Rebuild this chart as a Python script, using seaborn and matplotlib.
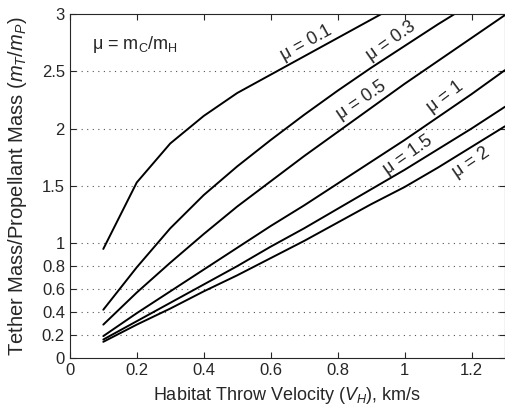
import numpy as np
import pandas as pd
import matplotlib
matplotlib.use("Agg")
import matplotlib.pyplot as plt
import seaborn as sns

# throw velocity samples, km/s
v_h = [0.1, 0.2, 0.3, 0.4, 0.5, 0.6, 0.7, 0.8, 0.9, 1.0, 1.1, 1.2, 1.3]

# tether mass / propellant mass (NaN where off the top)
ratio_mu01 = [0.95, 1.53, 1.87, 2.11, 2.31, 2.47, 2.63, 2.79, 2.95, 3.11, np.nan, np.nan, np.nan]
ratio_mu03 = [0.42, 0.79, 1.13, 1.42, 1.67, 1.90, 2.12, 2.33, 2.53, 2.72, 2.91, 3.09, np.nan]
ratio_mu05 = [0.29, 0.57, 0.83, 1.08, 1.32, 1.54, 1.76, 1.97, 2.18, 2.39, 2.59, 2.79, 2.99]
ratio_mu1 = [0.19, 0.39, 0.58, 0.77, 0.96, 1.15, 1.33, 1.52, 1.71, 1.90, 2.10, 2.30, 2.51]
ratio_mu15 = [0.16, 0.32, 0.48, 0.64, 0.80, 0.97, 1.13, 1.30, 1.47, 1.64, 1.82, 2.00, 2.19]
ratio_mu2 = [0.14, 0.29, 0.43, 0.58, 0.72, 0.87, 1.02, 1.18, 1.34, 1.49, 1.66, 1.84, 2.02]

mu_names = ["0.1", "0.3", "0.5", "1", "1.5", "2"]
series = [ratio_mu01, ratio_mu03, ratio_mu05, ratio_mu1, ratio_mu15, ratio_mu2]

# curve labels: (x, y, rotation)
label_pos = [(0.705, 2.75, 29), (0.96, 2.76, 35), (0.87, 2.25, 34),
             (1.12, 2.28, 37), (1.01, 1.77, 35), (1.20, 1.70, 34)]

x_ticks = [0, 0.2, 0.4, 0.6, 0.8, 1.0, 1.2]
x_ticklabels = ["0", "0.2", "0.4", "0.6", "0.8", "1", "1.2"]
y_ticks = [0, 0.2, 0.4, 0.6, 0.8, 1.0, 1.5, 2.0, 2.5, 3.0]
y_ticklabels = ["0", "0.2", "0.4", "0.6", "0.8", "1", "1.5", "2", "2.5", "3"]

frames = []
for name, vals in zip(mu_names, series):
    frames.append(pd.DataFrame({"v": v_h, "ratio": vals, "mu": name}))
df = pd.concat(frames, ignore_index=True)

sns.set_style("ticks")
plt.rcParams["font.family"] = ["Liberation Sans", "DejaVu Sans"]
plt.rcParams["mathtext.fontset"] = "custom"
plt.rcParams["mathtext.rm"] = "Liberation Sans"
plt.rcParams["mathtext.it"] = "Liberation Sans:italic"

fig = plt.figure(figsize=(5.06, 4.09), dpi=100)
ax = fig.add_axes([0.138, 0.125, 0.86, 0.841])

sns.lineplot(data=df, x="v", y="ratio", hue="mu", palette=["black"] * 6,
             linewidth=1.4, legend=False, ax=ax)

for name, (lx, ly, rot) in zip(mu_names, label_pos):
    ax.text(lx, ly, "μ = " + name, rotation=rot, ha="center", va="center",
            fontsize=13, rotation_mode="anchor")

ax.text(0.065, 2.73, "μ = m$_\\mathregular{C}$/m$_\\mathregular{H}$",
        ha="left", va="center", fontsize=13)

ax.set_xlim(0, 1.3)
ax.set_ylim(0, 3)
ax.set_xticks(x_ticks)
ax.set_xticklabels(x_ticklabels)
ax.set_yticks(y_ticks)
ax.set_yticklabels(y_ticklabels)
ax.tick_params(direction="in", top=True, right=True, labelsize=12, length=4)
for y in y_ticks[1:-1]:
    ax.axhline(y, color="#555555", linestyle=(0, (1, 4)), linewidth=0.8, zorder=0)

ax.set_xlabel("Habitat Throw Velocity ($V_H$), km/s", fontsize=13, labelpad=5)
ax.set_ylabel("Tether Mass/Propellant Mass ($m_T$/$m_P$)", fontsize=14.5, labelpad=9)
for s in ax.spines.values():
    s.set_linewidth(0.8)

fig.savefig("out.png", dpi=100)
